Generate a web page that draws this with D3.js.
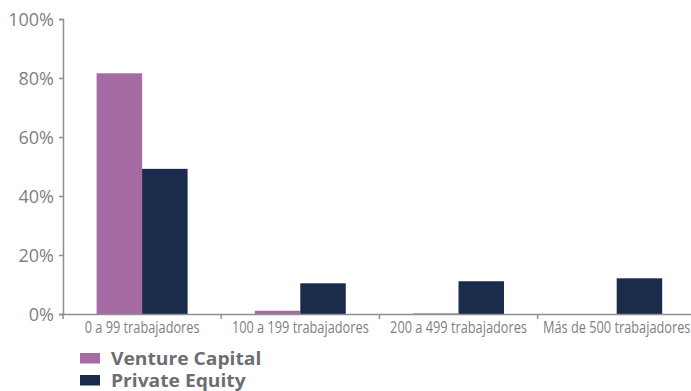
<!DOCTYPE html>
<html><head><meta charset="utf-8">
<script src="https://cdn.jsdelivr.net/npm/d3@7"></script>
<style>body{margin:0;background:#fff}svg{display:block}</style>
</head><body>
<svg id="c" width="691" height="391"></svg>
<script>
const categories = ["0 a 99 trabajadores","100 a 199 trabajadores","200 a 499 trabajadores","Más de 500 trabajadores"];
const seriesNames = ["Venture Capital","Private Equity"];
const ventureCapital = [81.6, 1.1, 0.2, 0];
const privateEquity = [49.2, 10.4, 11.1, 12.1];
const yTicks = [0,20,40,60,80,100];
const colors = ["#a66ba3","#1a2b4c"];

const svg = d3.select("#c");
const m = {left:63, right:0, top:19, bottom:77};
const W = 691, H = 391;
const x0 = d3.scaleBand().domain(categories).range([m.left, m.left + 158.2*4]).paddingInner(0.425).paddingOuter(0.2125);
const x1 = d3.scaleBand().domain(seriesNames).range([0, x0.bandwidth()]);
const y = d3.scaleLinear().domain([0,100]).range([314, 19]);
const step = x0.step();

const data = categories.map((c,i)=>({c, v:[ventureCapital[i], privateEquity[i]]}));

// bars
const g = svg.append("g");
data.forEach(d=>{
  d.v.forEach((v,j)=>{
    if (v<=0) return;
    g.append("rect")
      .attr("x", x0(d.c) + x1(seriesNames[j]))
      .attr("y", y(v))
      .attr("width", x1.bandwidth())
      .attr("height", y(0)-y(v))
      .attr("fill", colors[j]);
  });
});

// y axis
const ya = d3.axisLeft(y).tickValues(yTicks).tickFormat(d=>d+"%").tickSize(4).tickPadding(5);
const yg = svg.append("g").attr("transform",`translate(${m.left},0)`).call(ya);
yg.select(".domain").attr("stroke","#8e8e93").attr("stroke-width",1.5);
yg.selectAll(".tick line").attr("stroke","#8e8e93").attr("stroke-width",1.5);
yg.selectAll(".tick text").attr("fill","#7f7f7f").style("font-family","'Open Sans'").style("font-size","18px").attr("dy","0.35em");

// x axis
svg.append("line").attr("x1",m.left-1).attr("x2",W).attr("y1",y(0)+0.5).attr("y2",y(0)+0.5)
  .attr("stroke","#8e8e93").attr("stroke-width",1.5);
const bounds = d3.range(categories.length+1).map(i=>m.left + i*step);
svg.selectAll(".bt").data(bounds).enter().append("line")
  .attr("x1",d=>d).attr("x2",d=>d).attr("y1",y(0)).attr("y2",y(0)+5)
  .attr("stroke","#8e8e93").attr("stroke-width",1.5);

// x labels (condensed)
const lab = svg.append("g");
const tmp = lab.append("text").style("font-family","'Open Sans'").style("font-size","16px").text(categories[0]);
const natural = tmp.node().getComputedTextLength();
tmp.remove();
const sx = 115/natural;
categories.forEach(c=>{
  lab.append("text")
    .attr("transform",`translate(${x0(c)+x0.bandwidth()/2},333) scale(${sx},1)`)
    .attr("text-anchor","middle")
    .attr("fill","#7f7f7f")
    .style("font-family","'Open Sans'").style("font-size","16px")
    .text(c);
});

// legend
const lg = svg.append("g");
seriesNames.forEach((s,i)=>{
  const yy = 353 + i*22;
  lg.append("rect").attr("x",80).attr("y",yy).attr("width",20).attr("height",10.5).attr("fill",colors[i]);
  lg.append("text").attr("transform",`translate(111,${yy+12}) scale(1.1,1)`).attr("fill","#6d6e71")
    .style("font-family","'Open Sans'").style("font-weight","bold").style("font-size","17.5px")
    .text(s);
});
</script>
</body></html>
